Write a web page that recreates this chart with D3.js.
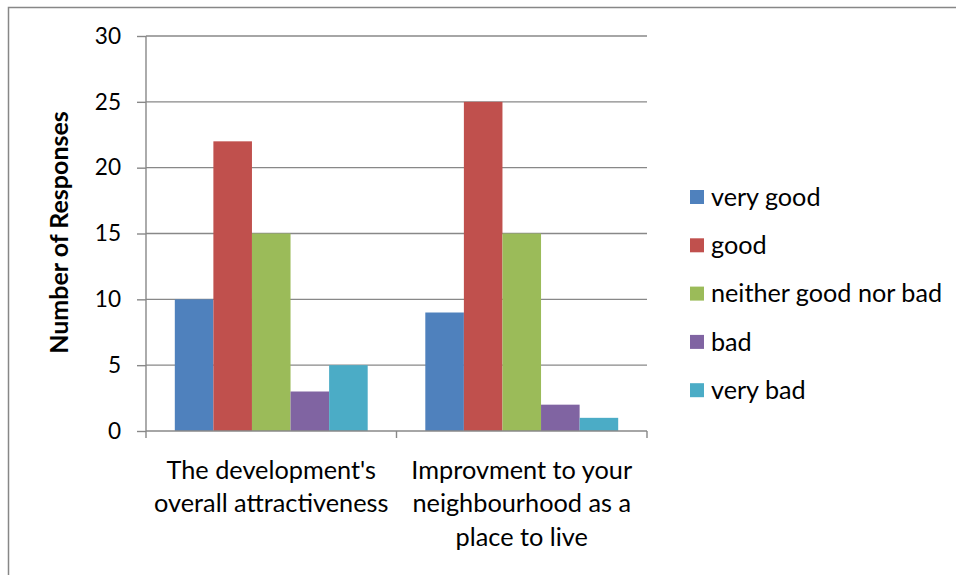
<!DOCTYPE html>
<html><head><meta charset="utf-8">
<script src="https://cdn.jsdelivr.net/npm/d3@7"></script>
<style>body{margin:0;background:#fff}svg{display:block}</style>
</head><body>
<svg id="c" width="956" height="575"></svg>
<script>
const categories = [["The development's","overall attractiveness"],["Improvment to your","neighbourhood as a","place to live"]];
const seriesNames = ["very good","good","neither good nor bad","bad","very bad"];
const seriesColors = ["#4F81BD","#C0504D","#9BBB59","#8064A2","#4BACC6"];
const veryGood = [10, 9];
const good = [22, 25];
const neither = [15, 15];
const bad = [3, 2];
const veryBad = [5, 1];
const yTicks = [0,5,10,15,20,25,30];
const yLabel = "Number of Responses";

const values = [veryGood, good, neither, bad, veryBad];
const svg = d3.select("#c");
const font = "Lato, 'Open Sans', sans-serif";

svg.append("rect").attr("x",8.5).attr("y",7.5).attr("width",1000).attr("height",1000)
  .attr("fill","#fff").attr("stroke","#878787").attr("stroke-width",1.5);

const x0 = d3.scaleBand().domain(d3.range(categories.length)).range([146,647]).paddingInner(0).paddingOuter(0);
const innerPad = 0.23;
const x1 = d3.scaleBand().domain(d3.range(seriesNames.length))
  .range([x0.bandwidth()*innerPad/2, x0.bandwidth()*(1-innerPad/2)]);
const y = d3.scaleLinear().domain([0,30]).range([431,36]);

// gridlines
svg.append("g").selectAll("line").data(yTicks.filter(t=>t>0)).join("line")
  .attr("x1",146).attr("x2",647).attr("y1",d=>y(d)).attr("y2",d=>y(d))
  .attr("stroke","#888").attr("stroke-width",1.4);

// y axis
const yAxis = svg.append("g").attr("transform","translate(146,0)")
  .call(d3.axisLeft(y).tickValues(yTicks).tickSize(9).tickPadding(16));
yAxis.select(".domain").attr("stroke","#888").attr("stroke-width",1.4).attr("d","M0,36V431");
yAxis.selectAll(".tick line").attr("stroke","#888").attr("stroke-width",1.4);
yAxis.selectAll(".tick text").attr("font-family",font).attr("font-size",22.6).attr("fill","#000");

// bars
const g = svg.append("g");
categories.forEach((c,ci)=>{
  values.forEach((s,si)=>{
    g.append("rect")
      .attr("x", x0(ci)+x1(si)).attr("width", x1.bandwidth())
      .attr("y", y(s[ci])).attr("height", y(0)-y(s[ci]))
      .attr("fill", seriesColors[si]);
  });
});

// x axis
const xAxis = svg.append("g").attr("transform","translate(0,431)");
xAxis.append("line").attr("x1",146).attr("x2",647).attr("stroke","#888").attr("stroke-width",1.4);
xAxis.selectAll("line.tk").data([146,396.5,647]).join("line").attr("class","tk")
  .attr("x1",d=>d).attr("x2",d=>d).attr("y1",0).attr("y2",7).attr("stroke","#888").attr("stroke-width",1.4);
categories.forEach((lines,ci)=>{
  const t = svg.append("text").attr("text-anchor","middle").attr("font-family",font)
    .attr("font-size",25.3).attr("fill","#000");
  lines.forEach((l,li)=>{
    t.append("tspan").attr("x", x0(ci)+x0.bandwidth()/2).attr("y", 470+li*33.5).attr("dy","0.35em").text(l);
  });
});

// y label
svg.append("text").attr("transform","translate(68,232.5) rotate(-90)")
  .attr("text-anchor","middle").attr("font-family",font).attr("font-weight","bold")
  .attr("font-size",25).attr("fill","#000").text(yLabel);

// legend
const leg = svg.append("g");
seriesNames.forEach((n,i)=>{
  const cy = 197 + i*48.3;
  leg.append("rect").attr("x",690).attr("y",cy-7).attr("width",14).attr("height",14).attr("fill",seriesColors[i]);
  leg.append("text").attr("x",711).attr("y",cy).attr("dy","0.35em").attr("font-family",font)
    .attr("font-size",25.2).attr("fill","#000").text(n);
});
</script>
</body></html>
